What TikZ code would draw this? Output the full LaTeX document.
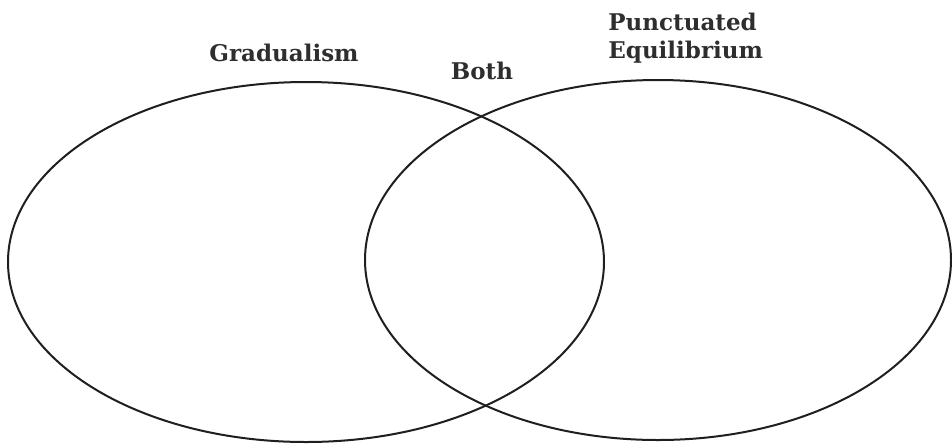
\documentclass[tikz,border=0pt]{standalone}
\usepackage{fontspec}
\newfontfamily\slabfont{DejaVu Serif}
\usetikzlibrary{calc}

\begin{document}
\begin{tikzpicture}[x=0.5pt, y=-0.5pt, line cap=round, line join=round,
    heading/.style={font=\slabfont\bfseries\fontsize{11.5}{13}\selectfont,
      text=black!82, inner sep=0pt},
    ring/.style={black!88, line width=1pt}]

  %% ---- page (pixel coordinates, y downwards) ----
  \useasboundingbox (0,0) rectangle (952,445);

  %% ---- the two sets ----
  \draw[ring] (306,262) ellipse [x radius=298, y radius=180];
  \draw[ring] (658,260) ellipse [x radius=293, y radius=180];

  %% ---- headings ----
  \node[heading, anchor=base]      (grad)  at (284,61) {Gradualism};
  \node[heading, anchor=base]      (both)  at (482,79) {Both};
  \node[heading, anchor=base west] (punct) at (608,30) {Punctuated};
  \node[heading, anchor=base west] (equil) at (608,58) {Equilibrium};

\end{tikzpicture}
\end{document}
